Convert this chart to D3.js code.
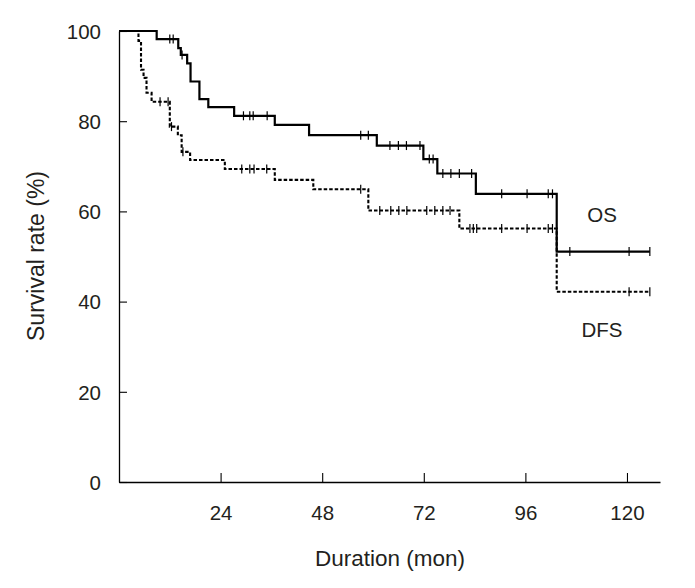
<!DOCTYPE html>
<html>
<head>
<meta charset="utf-8">
<script src="https://cdn.jsdelivr.net/npm/d3@7"></script>
<style>
  html, body { margin: 0; padding: 0; background: #fff; }
  svg { display: block; }
  text { font-family: "Liberation Sans", Arial, Helvetica, sans-serif; fill: #231f20; }
</style>
</head>
<body>
<svg id="chart" width="695" height="588"></svg>
<script>
// ---- data ----
const xTicks = [24, 48, 72, 96, 120];
const yTicks = [0, 20, 40, 60, 80, 100];

// Overall survival: step change times (months) and survival (%)
const osTimes = [0, 8.9, 14.0, 14.6, 16.1, 16.9, 19.0, 21.1, 27.2, 36.8, 44.9, 60.9, 71.9, 75.2, 84.3, 103.4, 125.4];
const osSurv  = [100, 98.2, 96.2, 94.7, 92.8, 88.8, 84.9, 83.1, 81.2, 79.2, 76.9, 74.6, 71.6, 68.4, 63.9, 51.1, 51.1];
const osCensor = [12.0, 12.8, 14.9, 29.4, 30.9, 31.7, 35.0, 57.1, 58.9, 64.0, 66.0, 67.9, 71.1, 73.3, 74.2,
                  76.5, 78.4, 80.4, 83.3, 90.4, 96.4, 101.4, 102.4, 106.5, 120.5, 125.4];

// Disease-free survival
const dfsTimes = [0, 4.6, 5.2, 5.8, 6.5, 7.7, 12.0, 13.9, 14.8, 16.8, 25.0, 36.8, 45.9, 58.9, 80.4, 103.4, 125.4];
const dfsSurv  = [100, 97.8, 91.4, 89.6, 86.3, 84.3, 78.8, 76.9, 73.2, 71.4, 69.4, 67.0, 64.9, 60.2, 56.2, 42.2, 42.2];
const dfsCensor = [9.7, 11.6, 12.4, 15.1, 29.0, 30.9, 31.9, 34.9, 57.1, 61.6, 64.2, 66.1, 68.0, 72.7, 74.6, 76.5, 78.2,
                   82.9, 83.7, 84.5, 90.4, 96.4, 101.4, 102.4, 120.5, 125.4];

const seriesLabels = ["OS", "DFS"];

// ---- layout ----
const svg = d3.select("#chart");
const x = d3.scaleLinear().domain([0, 127.8]).range([119, 660]);
const y = d3.scaleLinear().domain([0, 100]).range([482, 31]);

// axes
const xAxis = d3.axisBottom(x).tickValues(xTicks).tickSizeInner(-9).tickSizeOuter(0).tickPadding(23);
const yAxis = d3.axisLeft(y).tickValues(yTicks).tickSizeInner(-8).tickSizeOuter(0).tickPadding(18);

const gx = svg.append("g").attr("transform", `translate(0,${y(0)})`).call(xAxis);
const gy = svg.append("g").attr("transform", `translate(${x(0)},0)`).call(yAxis);
[gx, gy].forEach(g => {
  g.selectAll("path.domain").attr("stroke", "#000").attr("stroke-width", 1.3);
  g.selectAll(".tick line").attr("stroke", "#000").attr("stroke-width", 1.1);
  g.selectAll(".tick text").attr("font-size", 20.5).attr("fill", "#231f20")
    .attr("font-family", "'Liberation Sans', Arial, sans-serif");
});
gx.selectAll(".tick text").attr("dy", "0.71em");
gy.selectAll(".tick text").attr("dy", "0.36em");

// axis titles
svg.append("text").attr("x", 390).attr("y", 566).attr("text-anchor", "middle")
  .attr("font-size", 22.5).text("Duration (mon)");
svg.append("text").attr("transform", "translate(44,256) rotate(-90)").attr("text-anchor", "middle")
  .attr("font-size", 23).text("Survival rate (%)");

// curves
function stepValue(times, surv, t) {
  let v = surv[0];
  for (let i = 0; i < times.length; i++) { if (times[i] <= t) v = surv[i]; }
  return v;
}
const line = d3.line().x(d => x(d[0])).y(d => y(d[1])).curve(d3.curveStepAfter);

const curves = [
  { times: osTimes, surv: osSurv, censor: osCensor, dash: null, width: 2.2 },
  { times: dfsTimes, surv: dfsSurv, censor: dfsCensor, dash: "3.5,2", width: 2.1 }
];
curves.forEach(c => {
  const pts = c.times.map((t, i) => [t, c.surv[i]]);
  svg.append("path").datum(pts).attr("d", line).attr("fill", "none")
    .attr("stroke", "#000").attr("stroke-width", c.width)
    .attr("stroke-dasharray", c.dash);
  svg.append("g").selectAll("line").data(c.censor).join("line")
    .attr("x1", d => x(d)).attr("x2", d => x(d))
    .attr("y1", d => y(stepValue(c.times, c.surv, d)) - 4.5)
    .attr("y2", d => y(stepValue(c.times, c.surv, d)) + 4.5)
    .attr("stroke", "#000").attr("stroke-width", 1.2);
});

// series labels
svg.append("text").attr("x", 602).attr("y", 222).attr("text-anchor", "middle")
  .attr("font-size", 20.5).text(seriesLabels[0]);
svg.append("text").attr("x", 602).attr("y", 337).attr("text-anchor", "middle")
  .attr("font-size", 20.5).text(seriesLabels[1]);
</script>
</body>
</html>
